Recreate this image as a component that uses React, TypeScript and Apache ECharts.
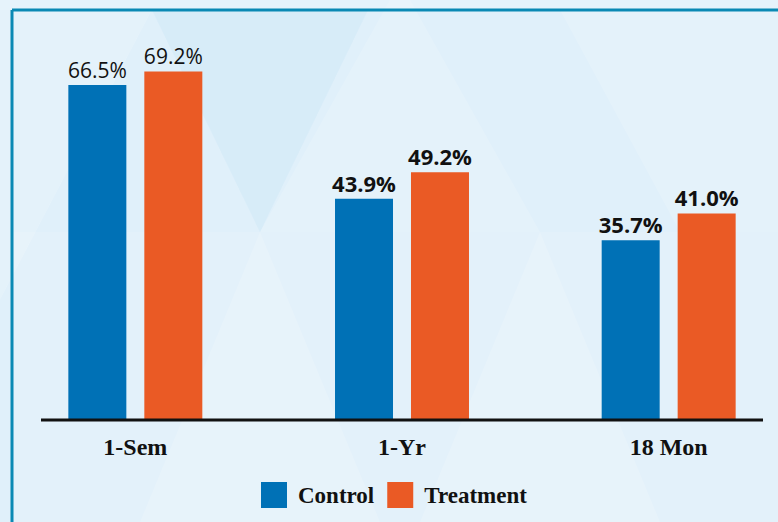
import React, { useEffect, useRef } from "react";
import * as echarts from "echarts";

const categories = ["1-Sem", "1-Yr", "18 Mon"];
const controlValues = [66.5, 43.9, 35.7];
const treatmentValues = [69.2, 49.2, 41.0];
const boldLabels = [false, true, true];
const seriesNames = ["Control", "Treatment"];

const BLUE = "#0071b6";
const ORANGE = "#ea5a25";

export default function App() {
  const ref = useRef<HTMLDivElement>(null);

  useEffect(() => {
    if (!ref.current) return;
    const chart = echarts.init(ref.current, null, { renderer: "svg" });

    const mkData = (vals: number[]) =>
      vals.map((v, i) => ({
        value: v,
        label: {
          fontWeight: boldLabels[i] ? "bold" : "normal",
          fontSize: boldLabels[i] ? 22 : 21,
        },
      }));

    const labelStyle = {
      show: true,
      position: "top",
      distance: 5,
      fontFamily: "Open Sans",
      color: "#111",
      formatter: (p: any) => p.value.toFixed(1) + "%",
    };

    const dark = "rgba(205,231,246,0.45)";
    const light = "rgba(255,255,255,0.15)";

    chart.setOption({
      animation: false,
      backgroundColor: "#e0f0fa",
      graphic: [
        { type: "rect", z: -20, shape: { x: 0, y: 0, width: 810, height: 10 }, style: { fill: "#e6f3fb" } },
        { type: "polygon", z: -10, shape: { points: [[152, 10], [368, 10], [260, 232]] }, style: { fill: dark } },
        { type: "polygon", z: -10, shape: { points: [[400, -18], [260, 232], [540, 232]] }, style: { fill: light } },
        { type: "polygon", z: -10, shape: { points: [[0, 10], [152, 10], [0, 300]] }, style: { fill: light } },
        { type: "polygon", z: -10, shape: { points: [[540, 232], [420, 522], [660, 522]] }, style: { fill: light } },
        { type: "polygon", z: -10, shape: { points: [[260, 232], [140, 522], [380, 522]] }, style: { fill: light } },
        { type: "polygon", z: -10, shape: { points: [[560, 10], [810, 10], [810, 232], [680, 232]] }, style: { fill: light } },
        { type: "rect", z: -10, shape: { x: 12, y: 232, width: 800, height: 290 }, style: { fill: "rgba(255,255,255,0.12)" } },
        { type: "line", z: 5, shape: { x1: 12, y1: 10, x2: 810, y2: 10 }, style: { stroke: "#0a89b4", lineWidth: 3 } },
        { type: "line", z: 5, shape: { x1: 12, y1: 10, x2: 12, y2: 522 }, style: { stroke: "#0a89b4", lineWidth: 3 } },
        { type: "line", z: 5, shape: { x1: 41, y1: 420, x2: 763, y2: 420 }, style: { stroke: "#111", lineWidth: 3 } },
      ],
      grid: { left: 2, width: 800, top: 17, height: 403 },
      xAxis: {
        type: "category",
        data: categories,
        axisLine: { show: false },
        axisTick: { show: false },
        axisLabel: {
          margin: 15,
          fontFamily: "Liberation Serif",
          fontWeight: "bold",
          fontSize: 24,
          color: "#111",
        },
      },
      yAxis: {
        type: "value",
        min: 0,
        max: 80,
        show: false,
        splitLine: { show: false },
      },
      legend: {
        left: 256,
        top: 477,
        itemWidth: 26,
        itemHeight: 26,
        itemGap: 13,
        icon: "rect",
        data: seriesNames,
        textStyle: {
          fontFamily: "Liberation Serif",
          fontWeight: "bold",
          fontSize: 23,
          color: "#111",
          padding: [0, 0, 0, 6],
        },
      },
      series: [
        {
          name: seriesNames[0],
          type: "bar",
          data: mkData(controlValues),
          barWidth: 58,
          barGap: "31%",
          itemStyle: { color: BLUE },
          label: labelStyle,
        },
        {
          name: seriesNames[1],
          type: "bar",
          data: mkData(treatmentValues),
          barWidth: 58,
          itemStyle: { color: ORANGE },
          label: labelStyle,
        },
      ],
    });

    return () => chart.dispose();
  }, []);

  return (
    <div
      ref={ref}
      style={{ position: "fixed", left: 0, top: 0, width: 810, height: 522 }}
    />
  );
}
